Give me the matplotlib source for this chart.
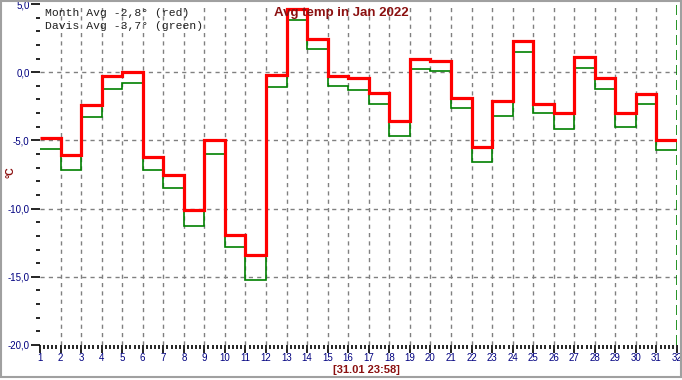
import numpy as np
import matplotlib
matplotlib.use("Agg")
import matplotlib.pyplot as plt
from matplotlib.ticker import MultipleLocator, FuncFormatter
from matplotlib.patches import Rectangle

# daily averages, January 2022
days = list(range(1, 32))
month_avg = [-4.8, -6.1, -2.4, -0.3, 0.0, -6.2, -7.5, -10.1, -5.0, -11.9, -13.4,
             -0.2, 4.6, 2.4, -0.3, -0.4, -1.5, -3.6, 1.0, 0.8, -1.9, -5.5,
             -2.1, 2.3, -2.3, -3.0, 1.1, -0.4, -3.0, -1.6, -5.0]
davis_avg = [-5.6, -7.2, -3.3, -1.2, -0.8, -7.2, -8.5, -11.3, -6.0, -12.8, -15.2,
             -1.1, 3.8, 1.7, -1.0, -1.3, -2.3, -4.7, 0.2, 0.1, -2.6, -6.6,
             -3.2, 1.5, -3.0, -4.2, 0.3, -1.2, -4.0, -2.3, -5.7]
legend_lines = ["Month Avg -2,8\u00b0 (red)", "Davis Avg -3,7\u00b0 (green)"]
title = "Avg temp in Jan 2022"
stamp = "[31.01 23:58]"

W, H = 682, 380
fig = plt.figure(figsize=(W / 100, H / 100), dpi=100)
ax = fig.add_axes([40 / W, (H - 345) / H, (677 - 40) / W, (345 - 4) / H])

edges = days + [32]
ax.stairs(davis_avg, edges, color="#008000", lw=1.2, baseline=None, zorder=3)
ax.stairs(month_avg, edges, color="#ff0000", lw=2.3, baseline=None, zorder=4)

ax.set_xlim(1, 32)
ax.set_ylim(-20, 5)

# grid
for d in range(2, 32):
    ax.axvline(d, color="#808080", lw=1, ls=(0, (3, 3)), zorder=1)
for v in [-15, -10, -5, 0]:
    ax.axhline(v, color="#808080", lw=1, ls=(0, (3, 3)), zorder=1)
ax.axvline(32, color="#008000", lw=1.2, ls=(0, (6, 3)), zorder=2)

for s in ax.spines.values():
    s.set_visible(False)

navy = "#000080"
ax.xaxis.set_major_locator(MultipleLocator(1))
ax.xaxis.set_minor_locator(MultipleLocator(0.2))
ax.yaxis.set_major_locator(MultipleLocator(5))
ax.yaxis.set_minor_locator(MultipleLocator(1))
ax.yaxis.set_major_formatter(FuncFormatter(lambda v, p: f"{v:.1f}".replace(".", ",")))
ax.tick_params(axis="y", which="major", length=6.5, width=1.2, color="black",
               labelcolor=navy, labelsize=7, pad=1)
ax.tick_params(axis="x", which="major", length=5.5, width=1.2, color="black",
               labelcolor=navy, labelsize=7, pad=0.5)
ax.tick_params(axis="both", which="minor", length=3, width=1.2, color="black")
for lab in ax.get_xticklabels() + ax.get_yticklabels():
    lab.set_fontfamily("Liberation Sans")

# texts
for i, t in enumerate(legend_lines):
    fig.text(45 / W, 1 - (13 + 13 * i) / H, t, family="Liberation Mono", fontsize=8.2,
             color="#202020", va="center", ha="left")
fig.text(341 / W, 1 - 13 / H, title, family="Liberation Sans", fontsize=9.5,
         fontweight="bold", color="#8b1010", ha="center", va="center")
fig.text(366 / W, 1 - 370 / H, stamp, family="Liberation Sans", fontsize=8,
         fontweight="bold", color="#8b1010", ha="center", va="center")
fig.text(11 / W, 1 - 172 / H, "\u00b0C", family="Liberation Sans", fontsize=7.5,
         fontweight="bold", color="#8b1010", ha="center", va="center", rotation=90)

# outer frame
fig.patches.append(Rectangle((1 / W, 1 - 377 / H), 680 / W, 376 / H,
                             transform=fig.transFigure, fill=False,
                             edgecolor="#a0a0a0", lw=1.5))

fig.savefig("out.png", dpi=100)
